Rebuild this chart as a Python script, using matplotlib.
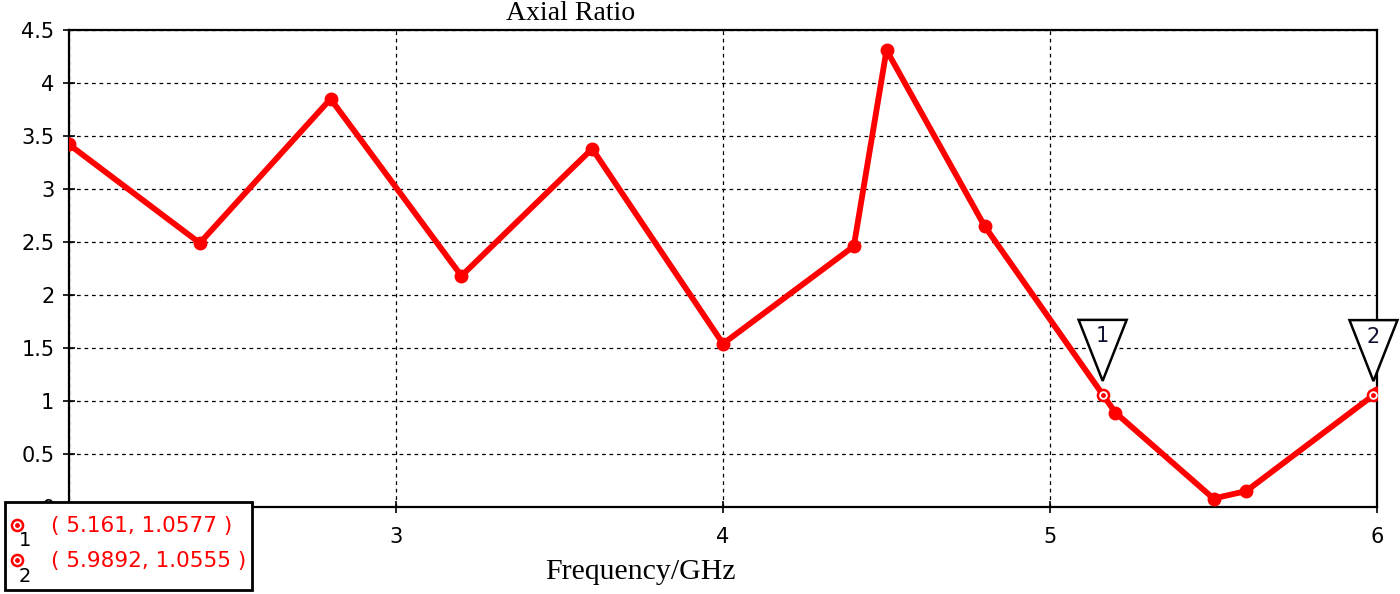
import matplotlib.pyplot as plt
import matplotlib.transforms as mtransforms
from matplotlib.patches import Polygon, Rectangle

# axial ratio
freq = [2.0, 2.4, 2.8, 3.2, 3.6, 4.0, 4.4, 4.5, 4.8, 5.2, 5.5, 5.6, 6.0]
ar = [3.42, 2.49, 3.85, 2.18, 3.38, 1.54, 2.46, 4.31, 2.65, 0.89, 0.08, 0.15, 1.08]

# markers
mk_names = ["1", "2"]
mk_freq = [5.161, 5.9892]
mk_val = [1.0577, 1.0555]

yticks = [0, 0.5, 1, 1.5, 2, 2.5, 3, 3.5, 4, 4.5]
xticks = [2, 3, 4, 5, 6]

fig = plt.figure(figsize=(14, 5.94), dpi=100)
ax = fig.add_axes([69 / 1400, 1 - 507 / 594, (1377 - 69) / 1400, (507 - 30) / 594])

ax.plot(freq, ar, color='red', lw=4.2, marker='o', ms=9, zorder=3)
ax.plot(mk_freq, mk_val, ls='none', marker='o', ms=8, mfc='white', mec='red', mew=1.8, zorder=4)
ax.plot(mk_freq, mk_val, ls='none', marker='o', ms=2.5, color='red', zorder=5)

# triangle flags above the markers (pixel offsets, dpi 100)
for name, fx, fy in zip(mk_names, mk_freq, mk_val):
    tr = fig.dpi_scale_trans + mtransforms.ScaledTranslation(fx, fy, ax.transData)
    tri = Polygon([(-0.24, 0.75), (0.24, 0.75), (0.0, 0.14)], closed=True,
                  fc='white', ec='black', lw=1.8, transform=tr, zorder=6, clip_on=False)
    ax.add_patch(tri)
    ax.text(0, 0.585, name, transform=tr, ha='center', va='center', fontsize=15,
            color='#101030', zorder=7)

ax.set_xlim(2, 6)
ax.set_ylim(0, 4.5)
ax.set_xticks(xticks)
ax.set_yticks(yticks)
ax.set_yticklabels([f"{t:g}" for t in yticks])
ax.tick_params(direction='inout', length=9, width=1.2, labelsize=15, pad=6)
ax.tick_params(axis='x', pad=10)
ax.grid(True, color='black', ls=(0, (3, 3)), lw=0.9)
for s in ax.spines.values():
    s.set_linewidth(1.6)

fig.text(571 / 1400, 1 - 14 / 594, "Axial Ratio", family='Liberation Serif', fontsize=20,
         ha='center', va='center')
fig.text(640 / 1400, 1 - 572 / 594, "Frequency/GHz", family='Liberation Serif', fontsize=21.5,
         ha='center', va='center')

# marker readout box
box = Rectangle((5 / 1400, 1 - 590 / 594), 247 / 1400, 88 / 594, transform=fig.transFigure,
                fc='white', ec='black', lw=2, zorder=10)
fig.add_artist(box)
rows = [525, 560]
for name, fx, fy, yy in zip(mk_names, mk_freq, mk_val, rows):
    fig.add_artist(plt.Line2D([17 / 1400], [1 - yy / 594], transform=fig.transFigure, marker='o',
                              ms=8, mfc='white', mec='red', mew=1.8, zorder=11))
    fig.add_artist(plt.Line2D([17 / 1400], [1 - yy / 594], transform=fig.transFigure, marker='o',
                              ms=2.5, color='red', zorder=12))
    fig.text(25 / 1400, 1 - (yy + 16) / 594, name, fontsize=14, ha='center', va='center', zorder=12)
    fig.text(51 / 1400, 1 - (yy + 1) / 594, f"( {fx}, {fy} )", fontsize=15.5, color='red',
             ha='left', va='center', zorder=12)

fig.savefig("out.png", dpi=100)
